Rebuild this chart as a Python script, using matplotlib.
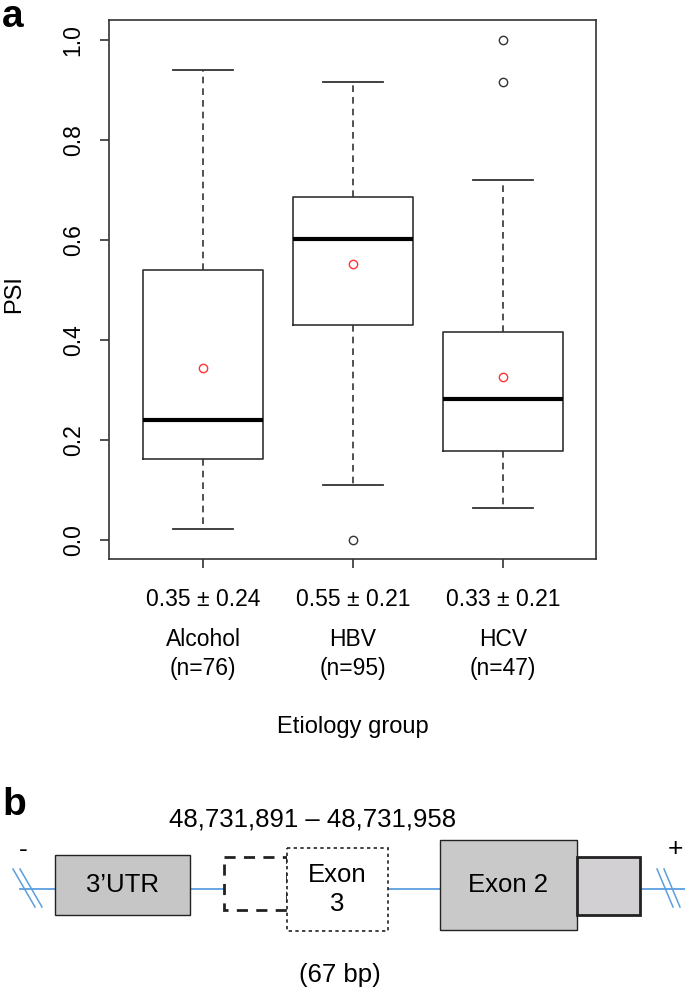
import matplotlib
matplotlib.use("Agg")
import matplotlib.pyplot as plt
from matplotlib.patches import Rectangle

plt.rcParams['font.family'] = ['Liberation Sans', 'DejaVu Sans']

# ---------- panel a data ----------
groups = ['Alcohol', 'HBV', 'HCV']
counts = [76, 95, 47]
mean_sd = ['0.35 ± 0.24', '0.55 ± 0.21', '0.33 ± 0.21']
whislo = [0.022, 0.110, 0.064]
q1 = [0.162, 0.430, 0.178]
med = [0.240, 0.602, 0.282]
q3 = [0.541, 0.686, 0.416]
whishi = [0.940, 0.916, 0.720]
means = [0.345, 0.553, 0.327]
fliers = [[], [0.0], [1.0, 0.916]]
yticks = [0.0, 0.2, 0.4, 0.6, 0.8, 1.0]

# ---------- panel b (gene structure, pixel layout) ----------
line_y = 889
solid_boxes = [  # x0, y0, x1, y1, face, lw, label
    (55, 855, 190, 915, '#c6c6c6', 1.0, "3’UTR"),
    (440, 840, 577, 930, '#c9c9c9', 1.0, 'Exon 2'),
    (577, 857, 640, 915, '#d2d0d2', 2.0, ''),
]
dash_box = (224, 857, 287, 910)
exon3_box = (287, 848, 388, 931)
slashes = [(13, 35), (20, 42), (657, 673), (664, 680)]

fs = 16.5

fig = plt.figure(figsize=(6.85, 9.92), dpi=100)
ax = fig.add_axes([109 / 685, 1 - 559 / 992, 487 / 685, 539 / 992])

stats = []
for i in range(3):
    stats.append(dict(whislo=whislo[i], q1=q1[i], med=med[i], q3=q3[i],
                      whishi=whishi[i], fliers=fliers[i]))

ax.bxp(stats, positions=[1, 2, 3], widths=0.8, showfliers=True,
       boxprops=dict(color='#333333', linewidth=1.2),
       whiskerprops=dict(color='#333333', linewidth=1.2, linestyle=(0, (4, 3))),
       capprops=dict(color='#333333', linewidth=1.3),
       capwidths=0.4,
       medianprops=dict(color='black', linewidth=3),
       flierprops=dict(marker='o', markerfacecolor='none', markeredgecolor='#333333',
                       markersize=6, markeredgewidth=1.0))
ax.plot([1, 2, 3], means, 'o', mfc='none', mec='#ff3333', ms=6, mew=1.0)

ax.set_xlim(0.373, 3.62)
ax.set_ylim(-0.038, 1.04)
ax.set_yticks(yticks)
ax.set_yticklabels([f'{v:.1f}' for v in yticks], rotation=90, va='center', fontsize=fs)
ax.set_xticks([1, 2, 3])
ax.set_xticklabels(mean_sd, fontsize=fs, va='baseline')
ax.tick_params(axis='both', direction='out', length=6.5, width=1.2, color='#333333')
ax.tick_params(axis='y', pad=11)
ax.tick_params(axis='x', pad=27)
for s in ax.spines.values():
    s.set_linewidth(1.2)
    s.set_color('#333333')

for i, g in enumerate(groups):
    ax.annotate(g, xy=(i + 1, 0), xycoords=('data', 'axes fraction'),
                xytext=(0, -87), textcoords='offset pixels', ha='center', va='baseline',
                fontsize=fs)
    ax.annotate(f'(n={counts[i]})', xy=(i + 1, 0), xycoords=('data', 'axes fraction'),
                xytext=(0, -116), textcoords='offset pixels', ha='center', va='baseline',
                fontsize=fs)

fig.text(14 / 685, 1 - 294 / 992, 'PSI', rotation=90, ha='center', va='center', fontsize=17)
fig.text(353 / 685, 1 - 733 / 992, 'Etiology group', ha='center', va='baseline', fontsize=17)
fig.text(2 / 685, 1 - 27 / 992, 'a', fontsize=28, fontweight='bold', va='baseline')

# ---------- panel b ----------
axb = fig.add_axes([0, 0, 1, 212 / 992])
axb.set_xlim(0, 685)
axb.set_ylim(992, 780)
axb.axis('off')

blue = '#5a9ee0'
axb.plot([20, 685], [line_y, line_y], color=blue, lw=1.3, zorder=0)
for xa, xb in slashes:
    axb.plot([xa, xb], [line_y - 20, line_y + 18], color=blue, lw=1.1)

for x0, y0, x1, y1, face, lw, label in solid_boxes:
    axb.add_patch(Rectangle((x0, y0), x1 - x0, y1 - y0, facecolor=face,
                            edgecolor='#222222', lw=lw, zorder=2))
    if label:
        axb.text((x0 + x1) / 2, (y0 + y1) / 2, label, ha='center', va='center',
                 fontsize=18.5, zorder=3)

x0, y0, x1, y1 = dash_box
axb.add_patch(Rectangle((x0, y0), x1 - x0, y1 - y0, facecolor='white',
                        edgecolor='#222222', lw=2, linestyle=(0, (4, 3)), zorder=2))
x0, y0, x1, y1 = exon3_box
axb.add_patch(Rectangle((x0, y0), x1 - x0, y1 - y0, facecolor='white',
                        edgecolor='#222222', lw=1.2, linestyle=(0, (2, 2)), zorder=2))
axb.text((x0 + x1) / 2, (y0 + y1) / 2, 'Exon\n3', ha='center', va='center',
         fontsize=18.5, linespacing=1.25, zorder=3)

axb.text(313, 820, '48,731,891 – 48,731,958', ha='center', va='center', fontsize=18.5)
axb.text(340, 975, '(67 bp)', ha='center', va='center', fontsize=18.5)
axb.text(23, 850, '-', ha='center', va='center', fontsize=19)
axb.text(675, 849, '+', ha='center', va='center', fontsize=19)
axb.text(2, 815, 'b', fontsize=28, fontweight='bold', va='baseline')

fig.savefig('out.png', dpi=100, facecolor='white')
